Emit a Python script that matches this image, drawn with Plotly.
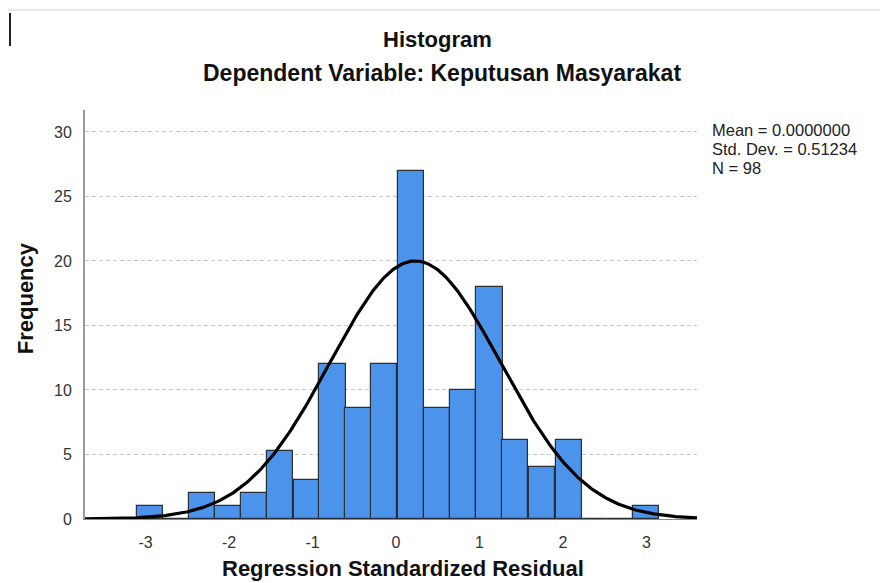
import numpy as np
import plotly.graph_objects as go

# ---- data ----
bin_centers = [-2.95, -2.64, -2.32, -2.01, -1.70, -1.39, -1.07, -0.76, -0.45, -0.14,
               0.18, 0.49, 0.80, 1.12, 1.43, 1.75, 2.07, 2.37, 2.68, 2.99]
frequencies = [1, 0, 2, 1, 2, 5.3, 3, 12, 8.6, 12,
               27, 8.6, 10, 18, 6.1, 4, 6.1, 0, 0, 1]
bin_width = 0.313

# normal curve drawn over the histogram (as it appears in the chart)
curve_mean = 0.23
curve_sd = 1.02
curve_peak = 20.0

x_ticks = [-3, -2, -1, 0, 1, 2, 3]
y_ticks = [0, 5, 10, 15, 20, 25, 30]

stats_lines = ["Mean = 0.0000000", "Std. Dev. = 0.51234", "N = 98"]
title_text = "Histogram"
subtitle_text = "Dependent Variable: Keputusan Masyarakat"
x_title = "Regression Standardized Residual"
y_title = "Frequency"

x_range = [-3.725, 3.605]
y_range = [0, 31.7]

FONT = "Liberation Sans, Arial, sans-serif"

fig = go.Figure()
fig.add_trace(go.Bar(
    x=bin_centers, y=frequencies, width=bin_width,
    marker=dict(color="#4C93EC", line=dict(color="#2b2f36", width=1.2)),
    hoverinfo="x+y", showlegend=False,
))

cx = np.linspace(x_range[0], x_range[1], 400)
cy = curve_peak * np.exp(-0.5 * ((cx - curve_mean) / curve_sd) ** 2)
fig.add_trace(go.Scatter(
    x=cx, y=cy, mode="lines", line=dict(color="#000000", width=3.2),
    showlegend=False, hoverinfo="skip",
))

# the page body has an 8px margin, so the figure is 8px smaller on each axis
fig.update_layout(
    width=880, height=575,
    margin=dict(l=77, r=191, t=102, b=64),
    paper_bgcolor="white", plot_bgcolor="white",
    bargap=0,
    font=dict(family=FONT, color="#222222"),
    xaxis=dict(
        range=x_range, tickvals=x_ticks, ticktext=[str(v) for v in x_ticks],
        showgrid=False, zeroline=False,
        showline=True, linecolor="#8a8a8a", linewidth=1.2,
        ticks="", ticklabelstandoff=9,
        tickfont=dict(size=16, color="#333333", family=FONT),
    ),
    yaxis=dict(
        range=y_range, tickvals=y_ticks,
        showgrid=True, gridcolor="#c9c9c9", gridwidth=1, griddash="4px,3px",
        zeroline=False,
        showline=True, linecolor="#9a9a9a", linewidth=2,
        ticks="", ticklabelstandoff=8,
        tickfont=dict(size=16, color="#333333", family=FONT),
    ),
)

# reference-pixel -> paper coordinates (plot area spans x 85..697, y 110..518.5)
def px_x(p):
    return (p - 85) / 612.0

def px_y(p):
    return (518.5 - p) / 408.5

annotations = [
    dict(text="<b>%s</b>" % title_text, x=px_x(437.5), y=px_y(40), xref="paper", yref="paper",
         xanchor="center", yanchor="middle", showarrow=False,
         font=dict(size=22, family=FONT, color="#111111")),
    dict(text="<b>%s</b>" % subtitle_text, x=px_x(442), y=px_y(73), xref="paper", yref="paper",
         xanchor="center", yanchor="middle", showarrow=False,
         font=dict(size=23, family=FONT, color="#111111")),
    dict(text="<b>%s</b>" % x_title, x=px_x(403), y=px_y(568), xref="paper", yref="paper",
         xanchor="center", yanchor="middle", showarrow=False,
         font=dict(size=22, family=FONT, color="#111111")),
    dict(text="<b>%s</b>" % y_title, x=px_x(25), y=px_y(298), xref="paper", yref="paper",
         xanchor="center", yanchor="middle", showarrow=False, textangle=-90,
         font=dict(size=22, family=FONT, color="#111111")),
]
for i, line in enumerate(stats_lines):
    annotations.append(dict(
        text=line, x=px_x(710), y=px_y(129.7 + 19 * i), xref="paper", yref="paper",
        xanchor="left", yanchor="middle", showarrow=False,
        font=dict(size=16.5, family=FONT, color="#222222")))
fig.update_layout(annotations=annotations)

# screenshot frame decorations
fig.add_shape(type="line", xref="paper", yref="paper", x0=px_x(8), x1=px_x(888),
              y0=px_y(10), y1=px_y(10), line=dict(color="#e2e2e2", width=1.5))
fig.add_shape(type="line", xref="paper", yref="paper", x0=px_x(10), x1=px_x(10),
              y0=px_y(13), y1=px_y(46), line=dict(color="#222222", width=2))

fig.write_html("out.html")
